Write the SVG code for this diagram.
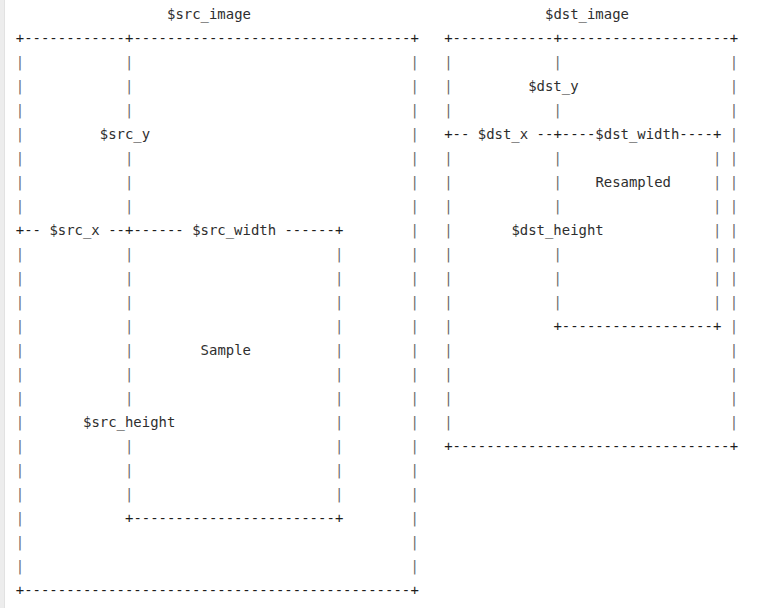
<svg xmlns="http://www.w3.org/2000/svg" width="776" height="608" viewBox="0 0 776 608" xml:space="preserve">
<style>
text { font-family: "DejaVu Sans Mono", "Liberation Mono", monospace; font-size: 13.95px; white-space: pre; }
.b { fill: #1e1e1e; }
.l { fill: #2e2e2e; }
.p { fill: #6a6a6a; }
</style>
<rect x="0" y="0" width="776" height="608" fill="#ffffff"/>
<rect x="0" y="0" width="4" height="608" fill="#ededed"/>
<line x1="4.5" y1="0" x2="4.5" y2="608" stroke="#e2e2e2" stroke-width="1"/>

<g id="src_image">
  <text class="l" x="167" y="18.5">$src_image</text>
  <text class="b" x="15.8" y="42.5">+------------<tspan x="125">+</tspan>---------------------------------<tspan x="410.6">+</tspan></text>
  <text class="p" x="15.8" y="66.5">|<tspan x="15.8" y="90.5">|</tspan><tspan x="15.8" y="114.5">|</tspan><tspan x="15.8" y="138.5">|</tspan><tspan x="15.8" y="162.5">|</tspan><tspan x="15.8" y="186.5">|</tspan><tspan x="15.8" y="210.5">|</tspan><tspan x="15.8" y="258.5">|</tspan><tspan x="15.8" y="282.5">|</tspan><tspan x="15.8" y="306.5">|</tspan><tspan x="15.8" y="330.5">|</tspan><tspan x="15.8" y="354.5">|</tspan><tspan x="15.8" y="378.5">|</tspan><tspan x="15.8" y="402.5">|</tspan><tspan x="15.8" y="426.5">|</tspan><tspan x="15.8" y="450.5">|</tspan><tspan x="15.8" y="474.5">|</tspan><tspan x="15.8" y="498.5">|</tspan><tspan x="15.8" y="522.5">|</tspan><tspan x="15.8" y="546.5">|</tspan><tspan x="15.8" y="570.5">|</tspan></text>
  <text class="p" x="410.6" y="66.5">|<tspan x="410.6" y="90.5">|</tspan><tspan x="410.6" y="114.5">|</tspan><tspan x="410.6" y="138.5">|</tspan><tspan x="410.6" y="162.5">|</tspan><tspan x="410.6" y="186.5">|</tspan><tspan x="410.6" y="210.5">|</tspan><tspan x="410.6" y="234.5">|</tspan><tspan x="410.6" y="258.5">|</tspan><tspan x="410.6" y="282.5">|</tspan><tspan x="410.6" y="306.5">|</tspan><tspan x="410.6" y="330.5">|</tspan><tspan x="410.6" y="354.5">|</tspan><tspan x="410.6" y="378.5">|</tspan><tspan x="410.6" y="402.5">|</tspan><tspan x="410.6" y="426.5">|</tspan><tspan x="410.6" y="450.5">|</tspan><tspan x="410.6" y="474.5">|</tspan><tspan x="410.6" y="498.5">|</tspan><tspan x="410.6" y="522.5">|</tspan><tspan x="410.6" y="546.5">|</tspan><tspan x="410.6" y="570.5">|</tspan></text>
  <text class="b" x="15.8" y="594.5">+----------------------------------------------<tspan x="410.6">+</tspan></text>
</g>

<g id="sample">
  <text class="b" x="125" y="234.5">+------ <tspan class="l">$src_width</tspan> ------<tspan x="335">+</tspan></text>
  <text class="p" x="125" y="258.5">|<tspan x="125" y="282.5">|</tspan><tspan x="125" y="306.5">|</tspan><tspan x="125" y="330.5">|</tspan><tspan x="125" y="354.5">|</tspan><tspan x="125" y="378.5">|</tspan><tspan x="125" y="402.5">|</tspan><tspan x="125" y="450.5">|</tspan><tspan x="125" y="474.5">|</tspan><tspan x="125" y="498.5">|</tspan></text>
  <text class="p" x="335" y="258.5">|<tspan x="335" y="282.5">|</tspan><tspan x="335" y="306.5">|</tspan><tspan x="335" y="330.5">|</tspan><tspan x="335" y="354.5">|</tspan><tspan x="335" y="378.5">|</tspan><tspan x="335" y="402.5">|</tspan><tspan x="335" y="426.5">|</tspan><tspan x="335" y="450.5">|</tspan><tspan x="335" y="474.5">|</tspan><tspan x="335" y="498.5">|</tspan></text>
  <text class="l" x="200.6" y="354.5">Sample</text>
  <text class="b" x="125" y="522.5">+------------------------<tspan x="335">+</tspan></text>
</g>

<g id="dst_image">
  <text class="l" x="545" y="18.5">$dst_image</text>
  <text class="b" x="444.2" y="42.5">+------------<tspan x="553.4">+</tspan>--------------------<tspan x="729.8">+</tspan></text>
  <text class="p" x="444.2" y="66.5">|<tspan x="444.2" y="90.5">|</tspan><tspan x="444.2" y="114.5">|</tspan><tspan x="444.2" y="162.5">|</tspan><tspan x="444.2" y="186.5">|</tspan><tspan x="444.2" y="210.5">|</tspan><tspan x="444.2" y="234.5">|</tspan><tspan x="444.2" y="258.5">|</tspan><tspan x="444.2" y="282.5">|</tspan><tspan x="444.2" y="306.5">|</tspan><tspan x="444.2" y="330.5">|</tspan><tspan x="444.2" y="354.5">|</tspan><tspan x="444.2" y="378.5">|</tspan><tspan x="444.2" y="402.5">|</tspan><tspan x="444.2" y="426.5">|</tspan></text>
  <text class="p" x="729.8" y="66.5">|<tspan x="729.8" y="90.5">|</tspan><tspan x="729.8" y="114.5">|</tspan><tspan x="729.8" y="138.5">|</tspan><tspan x="729.8" y="162.5">|</tspan><tspan x="729.8" y="186.5">|</tspan><tspan x="729.8" y="210.5">|</tspan><tspan x="729.8" y="234.5">|</tspan><tspan x="729.8" y="258.5">|</tspan><tspan x="729.8" y="282.5">|</tspan><tspan x="729.8" y="306.5">|</tspan><tspan x="729.8" y="330.5">|</tspan><tspan x="729.8" y="354.5">|</tspan><tspan x="729.8" y="378.5">|</tspan><tspan x="729.8" y="402.5">|</tspan><tspan x="729.8" y="426.5">|</tspan></text>
  <text class="b" x="444.2" y="450.5">+---------------------------------<tspan x="729.8">+</tspan></text>
</g>

<g id="resampled">
  <text class="b" x="553.4" y="138.5">+----<tspan class="l">$dst_width</tspan>----<tspan x="713">+</tspan></text>
  <text class="p" x="553.4" y="162.5">|<tspan x="553.4" y="186.5">|</tspan><tspan x="553.4" y="210.5">|</tspan><tspan x="553.4" y="258.5">|</tspan><tspan x="553.4" y="282.5">|</tspan><tspan x="553.4" y="306.5">|</tspan></text>
  <text class="p" x="713" y="162.5">|<tspan x="713" y="186.5">|</tspan><tspan x="713" y="210.5">|</tspan><tspan x="713" y="234.5">|</tspan><tspan x="713" y="258.5">|</tspan><tspan x="713" y="282.5">|</tspan><tspan x="713" y="306.5">|</tspan></text>
  <text class="l" x="595.4" y="186.5">Resampled</text>
  <text class="b" x="553.4" y="330.5">+------------------<tspan x="713">+</tspan></text>
</g>

<g id="connectors">
  <text class="p" x="125" y="66.5">|<tspan x="125" y="90.5">|</tspan><tspan x="125" y="114.5">|</tspan><tspan x="125" y="162.5">|</tspan><tspan x="125" y="186.5">|</tspan><tspan x="125" y="210.5">|</tspan></text>
  <text class="l" x="99.8" y="138.5">$src_y</text>
  <text class="b" x="15.8" y="234.5">+-- <tspan class="l">$src_x</tspan> --</text>
  <text class="l" x="83" y="426.5">$src_height</text>
  <text class="p" x="553.4" y="66.5">|<tspan x="553.4" y="114.5">|</tspan></text>
  <text class="l" x="528.2" y="90.5">$dst_y</text>
  <text class="b" x="444.2" y="138.5">+-- <tspan class="l">$dst_x</tspan> --</text>
  <text class="l" x="511.4" y="234.5">$dst_height</text>
</g>
</svg>
